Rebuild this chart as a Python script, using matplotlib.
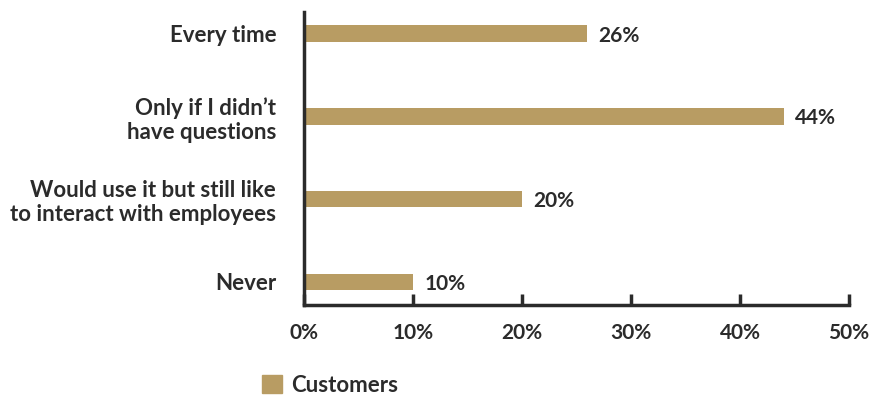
import matplotlib
matplotlib.use("Agg")
import matplotlib.pyplot as plt
from matplotlib.patches import Patch

categories = ["Every time", "Only if I didn\u2019t\nhave questions",
              "Would use it but still like\nto interact with employees", "Never"]
values = [26, 44, 20, 10]
value_labels = ["26%", "44%", "20%", "10%"]
xticks = [0, 10, 20, 30, 40, 50]
xtick_labels = ["0%", "10%", "20%", "30%", "40%", "50%"]
series_name = "Customers"

bar_color = "#B89C63"
text_color = "#2B2B2B"
plt.rcParams['font.family'] = ['Lato', 'DejaVu Sans']

fig = plt.figure(figsize=(8.71, 3.96), dpi=100)
ax = fig.add_axes([304/871, 1-305/396, (849-304)/871, (305-12)/396])

ypos = list(range(len(categories)))
ax.barh(ypos, values, height=0.2, color=bar_color)
for y, v, lab in zip(ypos, values, value_labels):
    ax.annotate(lab, xy=(v, y), xytext=(8, -1.5), textcoords='offset points',
                va='center', ha='left', fontsize=15,
                fontweight='bold', color=text_color)

ax.set_xlim(0, 50)
ax.set_ylim(3.28, -0.26)
ax.set_yticks(ypos)
ax.set_yticklabels(categories, fontsize=16, fontweight='bold', color=text_color,
                   linespacing=1.2)
ax.set_xticks(xticks)
ax.set_xticklabels(xtick_labels, fontsize=15, fontweight='bold', color=text_color)
ax.tick_params(axis='y', length=0, pad=20)
ax.tick_params(axis='x', direction='in', length=8, width=2.5, color='#2B2B2B', pad=13)
for s in ['top', 'right']:
    ax.spines[s].set_visible(False)
for s in ['left', 'bottom']:
    ax.spines[s].set_linewidth(2.5)
    ax.spines[s].set_color('#2B2B2B')

leg = fig.legend(handles=[Patch(color=bar_color, label=series_name)],
                 loc='center', bbox_to_anchor=(330/871, 1-385/396), frameon=False,
                 prop={'size': 16, 'weight': 'bold'}, handlelength=0.9, handleheight=0.9,
                 handletextpad=0.4)
for t in leg.get_texts():
    t.set_color(text_color)

fig.savefig("out.png", dpi=100)
